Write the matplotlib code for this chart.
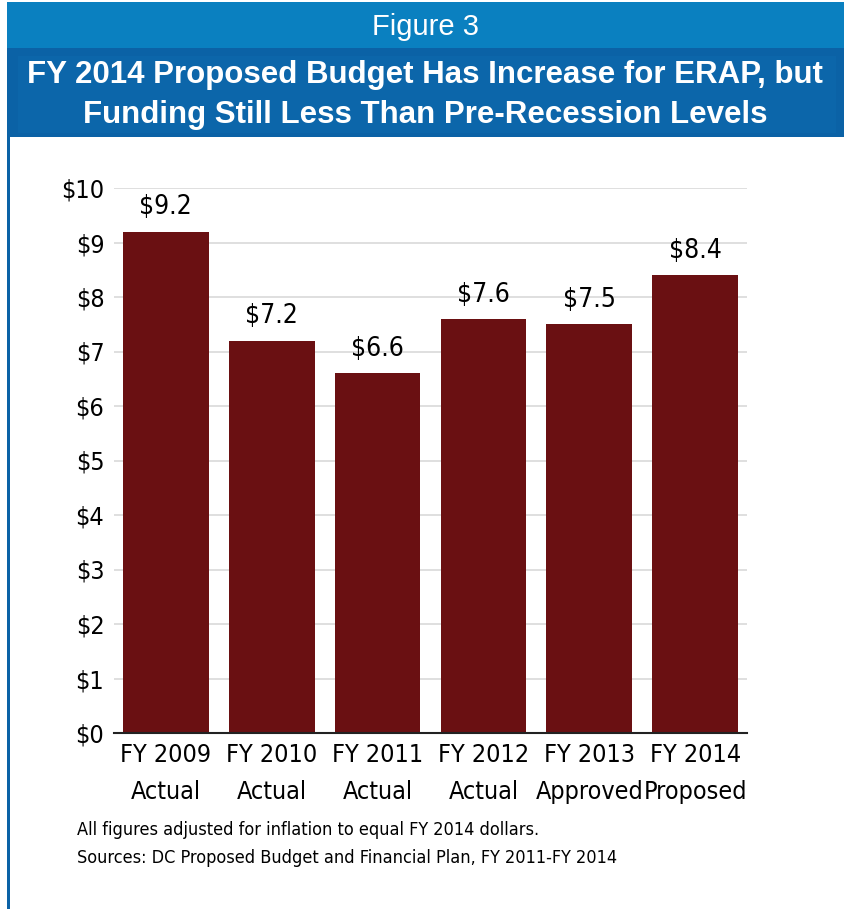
import matplotlib
matplotlib.use("Agg")
import matplotlib.pyplot as plt
from matplotlib.patches import Rectangle
from matplotlib import font_manager

# Data: ERAP funding, millions of FY 2014 dollars
categories = ["FY 2009\nActual", "FY 2010\nActual", "FY 2011\nActual",
              "FY 2012\nActual", "FY 2013\nApproved", "FY 2014\nProposed"]
values = [9.2, 7.2, 6.6, 7.6, 7.5, 8.4]
y_ticks = [0, 1, 2, 3, 4, 5, 6, 7, 8, 9, 10]
y_tick_labels = ["$" + str(t) for t in y_ticks]

fig_title = "Figure 3"
chart_title = ("FY 2014 Proposed Budget Has Increase for ERAP, but\n"
               "Funding Still Less Than Pre-Recession Levels")
note_lines = ["All figures adjusted for inflation to equal FY 2014 dollars.",
              "Sources: DC Proposed Budget and Financial Plan, FY 2011-FY 2014"]

W, H = 844, 909
BAR = "#6A1012"
LIGHT_BLUE = "#0A80C0"
DARK_BLUE = "#0B62A6"

# Condensed face for the chart text
names = {f.name for f in font_manager.fontManager.ttflist}
cond = [f for f in font_manager.fontManager.ttflist
        if f.name == "DejaVu Sans" and f.stretch == "condensed" and f.weight in (400, "normal")
        and f.style == "normal"]
if "Liberation Sans Narrow" in names:
    NARROW = dict(family="Liberation Sans Narrow")
elif cond:
    NARROW = dict(fontproperties=font_manager.FontProperties(fname=cond[0].fname))
else:
    NARROW = dict(family="DejaVu Sans")


def narrow_props(size):
    if "fontproperties" in NARROW:
        fp = NARROW["fontproperties"].copy()
        fp.set_size(size)
        return dict(fontproperties=fp)
    return dict(family=NARROW["family"], fontsize=size)


fig = plt.figure(figsize=(W / 100, H / 100), dpi=100)
fig.patch.set_facecolor("white")


def box(x0, y0, x1, y1, color):
    """Rectangle given in pixel coords measured from the top-left corner."""
    fig.patches.append(Rectangle((x0 / W, 1 - y1 / H), (x1 - x0) / W, (y1 - y0) / H,
                                 transform=fig.transFigure, facecolor=color,
                                 edgecolor="none", zorder=0))


# Header bands and left border
box(7, 2, W, 48, LIGHT_BLUE)
box(9, 48, W, 137, DARK_BLUE)
box(18, 56, 836, 133, "#0C66AA")
box(7, 48, 9.5, H, DARK_BLUE)

fig.text(425 / W, 1 - 27 / H, fig_title, ha="center", va="center",
         color="white", fontsize=21, family=["Liberation Sans", "DejaVu Sans"])
fig.text(425 / W, 1 - 95 / H, chart_title, ha="center", va="center",
         color="white", fontsize=22.5, fontweight="bold", linespacing=1.4,
         family=["Liberation Sans", "DejaVu Sans"])

# Bar chart
ax = fig.add_axes([114 / W, 1 - 733 / H, 633 / W, 545 / H])
x = list(range(len(values)))
ax.bar(x, values, width=0.81, color=BAR, zorder=2)
for xi, v in zip(x, values):
    ax.annotate(f"${v:.1f}", (xi, v), xytext=(0, 8), textcoords="offset points",
                ha="center", va="bottom", **narrow_props(19))

ax.set_xlim(-0.49, 5.49)
ax.set_ylim(0, 10)
ax.set_yticks(y_ticks)
ax.set_yticklabels(y_tick_labels, **narrow_props(18))
ax.set_xticks(x)
ax.set_xticklabels(categories, linespacing=1.7, **narrow_props(18))
ax.tick_params(axis="both", length=0)
ax.tick_params(axis="y", pad=7)
ax.tick_params(axis="x", pad=7)
ax.yaxis.grid(True, color="#D9D9D9", linewidth=1.2, zorder=0)
ax.set_axisbelow(True)
for side in ("top", "right", "left"):
    ax.spines[side].set_visible(False)
ax.spines["bottom"].set_color("#222222")
ax.spines["bottom"].set_linewidth(1.5)
ax.set_facecolor("none")

# Notes below the chart
fig.text(77 / W, 1 - 830 / H, note_lines[0], ha="left", va="center", **narrow_props(13))
fig.text(77 / W, 1 - 858 / H, note_lines[1], ha="left", va="center", **narrow_props(13))

fig.savefig("out.png", dpi=100)
